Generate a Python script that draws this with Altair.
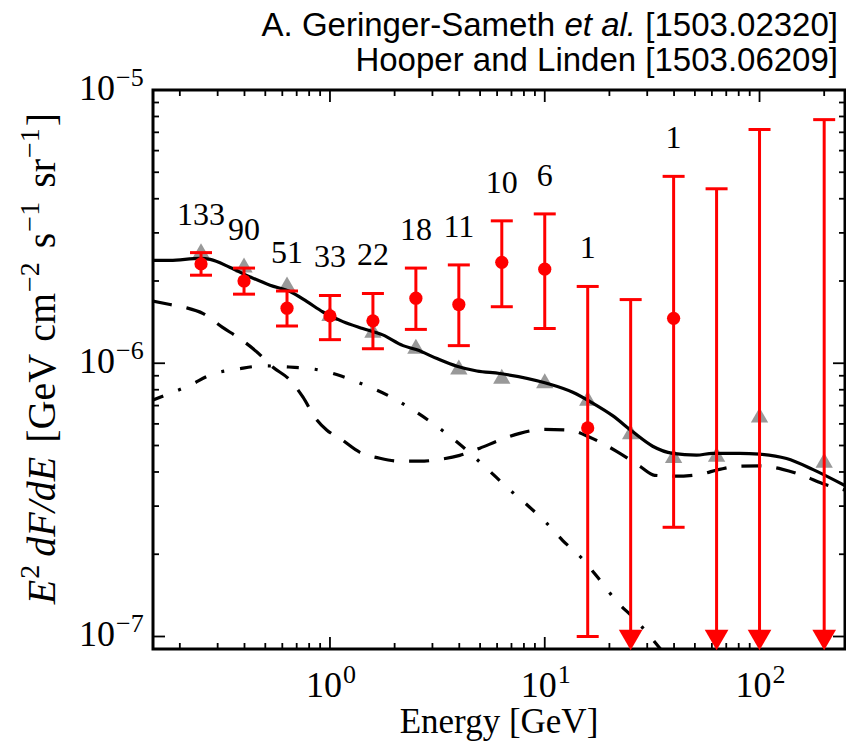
import altair as alt
import pandas as pd

# ---------------- data ----------------
energy = [0.251, 0.398, 0.631, 1.0, 1.585, 2.512, 3.981, 6.31, 10.0, 15.85, 25.12, 39.81, 63.1, 100.0, 200.0]
tri_F = [2.58e-6, 2.29e-6, 1.95e-6, 1.52e-6, 1.32e-6, 1.155e-6, 9.68e-7, 8.96e-7, 8.63e-7,
         7.45e-7, 5.61e-7, 4.60e-7, 4.64e-7, 6.47e-7, 4.42e-7]

det_E = [0.251, 0.398, 0.631, 1.0, 1.585, 2.512, 3.981, 6.31, 10.0, 15.85, 39.81]
det_F = [2.31e-6, 2.00e-6, 1.59e-6, 1.49e-6, 1.43e-6, 1.73e-6, 1.64e-6, 2.34e-6, 2.21e-6, 5.80e-7, 1.46e-6]
det_lo = [2.10e-6, 1.79e-6, 1.37e-6, 1.22e-6, 1.13e-6, 1.33e-6, 1.16e-6, 1.61e-6, 1.34e-6, 1.0e-7, 2.51e-7]
det_hi = [2.54e-6, 2.23e-6, 1.84e-6, 1.77e-6, 1.80e-6, 2.23e-6, 2.29e-6, 3.32e-6, 3.52e-6, 1.91e-6, 4.83e-6]
det_count = ["133", "90", "51", "33", "22", "18", "11", "10", "6", "1", "1"]

ul_E = [25.12, 63.1, 100.0, 200.0]
ul_hi = [1.71e-6, 4.35e-6, 7.17e-6, 7.79e-6]
ul_floor = [9.7e-8, 9.7e-8, 9.7e-8, 9.7e-8]

solid_E = [0.1486, 0.180, 0.248, 0.277, 0.343, 0.425, 0.526, 0.652, 0.782, 0.928, 1.149, 1.42, 1.76,
           2.19, 2.54, 3.15, 3.90, 4.83, 6.18, 10.2, 13.5, 16.7, 20.7, 25.7, 31.8, 39.4, 50.9, 60.4,
           80.7, 100.0, 133.6, 176.7, 251.0]
solid_F = [2.38e-6, 2.38e-6, 2.42e-6, 2.40e-6, 2.24e-6, 2.07e-6, 1.93e-6, 1.83e-6, 1.68e-6, 1.54e-6,
           1.42e-6, 1.34e-6, 1.27e-6, 1.16e-6, 1.12e-6, 1.04e-6, 9.75e-7, 9.37e-7, 9.17e-7, 8.45e-7,
           7.83e-7, 7.15e-7, 6.43e-7, 5.61e-7, 4.97e-7, 4.68e-7, 4.61e-7, 4.68e-7, 4.68e-7, 4.65e-7,
           4.48e-7, 4.09e-7, 3.56e-7]

dash_E = [0.1486, 0.180, 0.212, 0.257, 0.315, 0.381, 0.457, 0.543, 0.652, 0.749, 0.851, 0.968, 1.113,
          1.379, 1.708, 2.117, 2.62, 3.25, 4.02, 4.99, 6.18, 7.65, 10.0, 13.07, 16.2, 21.6, 27.7,
          32.5, 40.3, 52.6, 65.2, 80.7, 100.0, 128.0, 162.0, 196.0, 251.0]
dash_F = [1.69e-6, 1.64e-6, 1.60e-6, 1.52e-6, 1.355e-6, 1.23e-6, 1.10e-6, 9.67e-7, 8.67e-7, 7.51e-7,
          6.34e-7, 5.69e-7, 5.31e-7, 4.72e-7, 4.49e-7, 4.38e-7, 4.38e-7, 4.45e-7, 4.60e-7, 4.89e-7,
          5.23e-7, 5.54e-7, 5.73e-7, 5.69e-7, 5.36e-7, 4.76e-7, 4.20e-7, 3.89e-7, 3.86e-7, 3.92e-7,
          4.09e-7, 4.20e-7, 4.21e-7, 4.09e-7, 3.86e-7, 3.63e-7, 3.43e-7]

dd_E = [0.1486, 0.171, 0.221, 0.283, 0.373, 0.488, 0.645, 0.851, 1.137, 1.42, 1.86, 2.31, 2.92,
        4.02, 5.43, 6.65, 8.24, 10.1, 12.1, 14.9, 17.6, 21.9, 26.2, 31.5, 38.0]
dd_F = [7.31e-7, 7.64e-7, 8.28e-7, 9.12e-7, 9.52e-7, 9.78e-7, 9.69e-7, 9.51e-7, 8.96e-7, 8.38e-7,
        7.63e-7, 6.92e-7, 6.13e-7, 5.05e-7, 4.09e-7, 3.52e-7, 3.04e-7, 2.62e-7, 2.25e-7, 1.93e-7,
        1.65e-7, 1.33e-7, 1.16e-7, 9.84e-8, 8.2e-8]

x_major = [1.0, 10.0, 100.0]
x_major_exp = ["0", "1", "2"]
x_minor = [0.2, 0.3, 0.4, 0.5, 0.6, 0.7, 0.8, 0.9, 2, 3, 4, 5, 6, 7, 8, 9,
           20, 30, 40, 50, 60, 70, 80, 90, 200]
y_major = [1e-7, 1e-6, 1e-5]
y_major_exp = ["−7", "−6", "−5"]
y_minor = [2e-7, 3e-7, 4e-7, 5e-7, 6e-7, 7e-7, 8e-7, 9e-7,
           2e-6, 3e-6, 4e-6, 5e-6, 6e-6, 7e-6, 8e-6, 9e-6]

x_label_text = "Energy [GeV]"
# y label pieces: (text, size, italic, superscript, gap before)
y_label_pieces = [("E", 40, True, False, 0), ("2", 28, False, True, 1), ("dF/dE", 40, True, False, 8),
                  ("[GeV", 40, False, False, 14), ("cm", 40, False, False, 12), ("−2", 28, False, True, 1),
                  ("s", 40, False, False, 14), ("−1", 28, False, True, 1), ("sr", 40, False, False, 14),
                  ("−1", 28, False, True, 1), ("]", 40, False, False, 2)]

# ---------------- layout ----------------
W, H = 692, 559
SERIF = "Liberation Serif"
SANS = "Liberation Sans"
RED = "#ff0000"

xs = alt.Scale(type="log", domain=[0.15, 250], nice=False)
ys = alt.Scale(type="log", domain=[0.9e-7, 1e-5], nice=False)


def X(field="E"):
    return alt.X(f"{field}:Q", scale=xs, axis=None)


def Y(field="F"):
    return alt.Y(f"{field}:Q", scale=ys, axis=None)


# tick marks (inward, all four sides)
tick_layers = []
for vals_x, vals_y, ln in ((x_major, y_major, 12), (x_minor, y_minor, 6)):
    xd = pd.DataFrame({"E": vals_x})
    yd = pd.DataFrame({"F": vals_y})
    tick_layers += [
        alt.Chart(xd).mark_rule(color="black", strokeWidth=1.8).encode(
            x=X(), y=alt.value(H - ln), y2=alt.value(H)),
        alt.Chart(xd).mark_rule(color="black", strokeWidth=1.8).encode(
            x=X(), y=alt.value(0), y2=alt.value(ln)),
        alt.Chart(yd).mark_rule(color="black", strokeWidth=1.8).encode(
            y=Y(), x=alt.value(0), x2=alt.value(ln)),
        alt.Chart(yd).mark_rule(color="black", strokeWidth=1.8).encode(
            y=Y(), x=alt.value(W - ln), x2=alt.value(W)),
    ]

# tick labels  10^n  (base + superscript)
xl_df = pd.DataFrame({"E": x_major, "b": ["10"] * 3, "e": x_major_exp})
yl_df = pd.DataFrame({"F": y_major, "b": ["10"] * 3, "e": y_major_exp})
tick_labels = [
    alt.Chart(xl_df).mark_text(font=SERIF, fontSize=36, align="right", baseline="alphabetic",
                               dx=12, color="black").encode(x=X(), y=alt.value(H + 48), text="b:N"),
    alt.Chart(xl_df).mark_text(font=SERIF, fontSize=26, align="left", baseline="alphabetic",
                               dx=13, color="black").encode(x=X(), y=alt.value(H + 34), text="e:N"),
    alt.Chart(yl_df).mark_text(font=SERIF, fontSize=36, align="right", baseline="alphabetic",
                               dx=-38, dy=10, color="black").encode(y=Y(), x=alt.value(0), text="b:N"),
    alt.Chart(yl_df).mark_text(font=SERIF, fontSize=26, align="left", baseline="alphabetic",
                               dx=-37, dy=-4, color="black").encode(y=Y(), x=alt.value(0), text="e:N"),
]

# axis titles
one = pd.DataFrame({"k": [0]})
titles = [alt.Chart(one).mark_text(text=x_label_text, font=SERIF, fontSize=35, align="center",
                                   baseline="alphabetic", color="black").encode(
    x=alt.value(W / 2), y=alt.value(H + 84))]

# lay out y-label pieces bottom-to-top (rotated text), using Times metrics
_w = {"E": .611, "d": .5, "F": .611, "/": .278, "[": .333, "G": .722, "e": .444, "V": .722,
      "c": .444, "m": .778, "s": .389, "r": .333, "]": .333, "1": .5, "2": .5, "−": .564}
_lens = [sum(_w[c] for c in t) * sz + g for t, sz, it, sup, g in y_label_pieces]
_total = sum(_lens)
_pos = (358.5 - 90) + _total / 2.0
BASE_X = 55 - 153
for (t, sz, it, sup, g), L in zip(y_label_pieces, _lens):
    _pos -= g
    titles.append(alt.Chart(one).mark_text(
        text=t, font=SERIF, fontSize=sz, fontStyle="italic" if it else "normal", angle=270,
        align="left", baseline="alphabetic", color="black").encode(
        x=alt.value(BASE_X - (16 if sup else 0)), y=alt.value(_pos)))
    _pos -= (L - g)

tri_df = pd.DataFrame({"E": energy, "F": tri_F})
tri = alt.Chart(tri_df).mark_point(shape="triangle-up", filled=True, size=300,
                                   color="#999999", opacity=1).encode(x=X(), y=Y())

solid = alt.Chart(pd.DataFrame({"E": solid_E, "F": solid_F})).mark_line(
    color="black", strokeWidth=3.2, clip=True, interpolate="monotone").encode(x=X(), y=Y())
dashed = alt.Chart(pd.DataFrame({"E": dash_E, "F": dash_F})).mark_line(
    color="black", strokeWidth=3.2, clip=True, interpolate="monotone",
    strokeDash=[20, 15]).encode(x=X(), y=Y())
dashdot = alt.Chart(pd.DataFrame({"E": dd_E, "F": dd_F})).mark_line(
    color="black", strokeWidth=3.2, clip=True, interpolate="monotone",
    strokeDash=[12, 16, 3, 16]).encode(x=X(), y=Y())

det_df = pd.DataFrame({"E": det_E, "F": det_F, "lo": det_lo, "hi": det_hi, "n": det_count})
ul_df = pd.DataFrame({"E": ul_E, "hi": ul_hi, "F": ul_floor})

det_bars = alt.Chart(det_df).mark_rule(color=RED, strokeWidth=3).encode(
    x=X(), y=Y("hi"), y2="lo:Q")
ul_bars = alt.Chart(ul_df).mark_rule(color=RED, strokeWidth=3).encode(
    x=X(), y=Y("hi"), y2="F:Q")

caps_df = pd.DataFrame({"E": det_E + det_E + ul_E, "F": det_lo + det_hi + ul_hi})
caps = alt.Chart(caps_df).mark_tick(orient="horizontal", size=22, thickness=3,
                                    color=RED, opacity=1).encode(x=X(), y=Y())
dots = alt.Chart(det_df).mark_circle(size=175, color=RED, opacity=1).encode(x=X(), y=Y())
arrows = alt.Chart(ul_df).mark_point(shape="triangle-down", filled=True, size=560,
                                     color=RED, opacity=1).encode(x=X(), y=Y())

counts = alt.Chart(det_df).mark_text(font=SERIF, fontSize=32, dy=-28, baseline="alphabetic",
                                     align="center", color="black").encode(
    x=X(), y=Y("hi"), text="n:N")

hdr_kw = dict(font=SANS, fontSize=33, align="right", baseline="alphabetic", color="black")
hdr = [
    alt.Chart(one).mark_text(text="[1503.02320]", **hdr_kw).encode(
        x=alt.value(685), y=alt.value(-54)),
    alt.Chart(one).mark_text(text="et al.", fontStyle="italic", **hdr_kw).encode(
        x=alt.value(483), y=alt.value(-54)),
    alt.Chart(one).mark_text(text="A. Geringer-Sameth", **hdr_kw).encode(
        x=alt.value(402), y=alt.value(-54)),
    alt.Chart(one).mark_text(text="Hooper and Linden [1503.06209]", **hdr_kw).encode(
        x=alt.value(685), y=alt.value(-19)),
]

chart = alt.layer(
    *tick_layers, tri, solid, dashed, dashdot, det_bars, ul_bars, caps, dots, arrows, counts,
    *tick_labels, *titles, *hdr
).properties(
    width=W, height=H,
    padding={"left": 153, "top": 90, "right": 1, "bottom": 96},
    autosize=alt.AutoSizeParams(type="none"),
    background="white",
).configure_view(stroke="black", strokeWidth=3)

chart.save("out.html", embed_options={"renderer": "svg", "actions": False})
